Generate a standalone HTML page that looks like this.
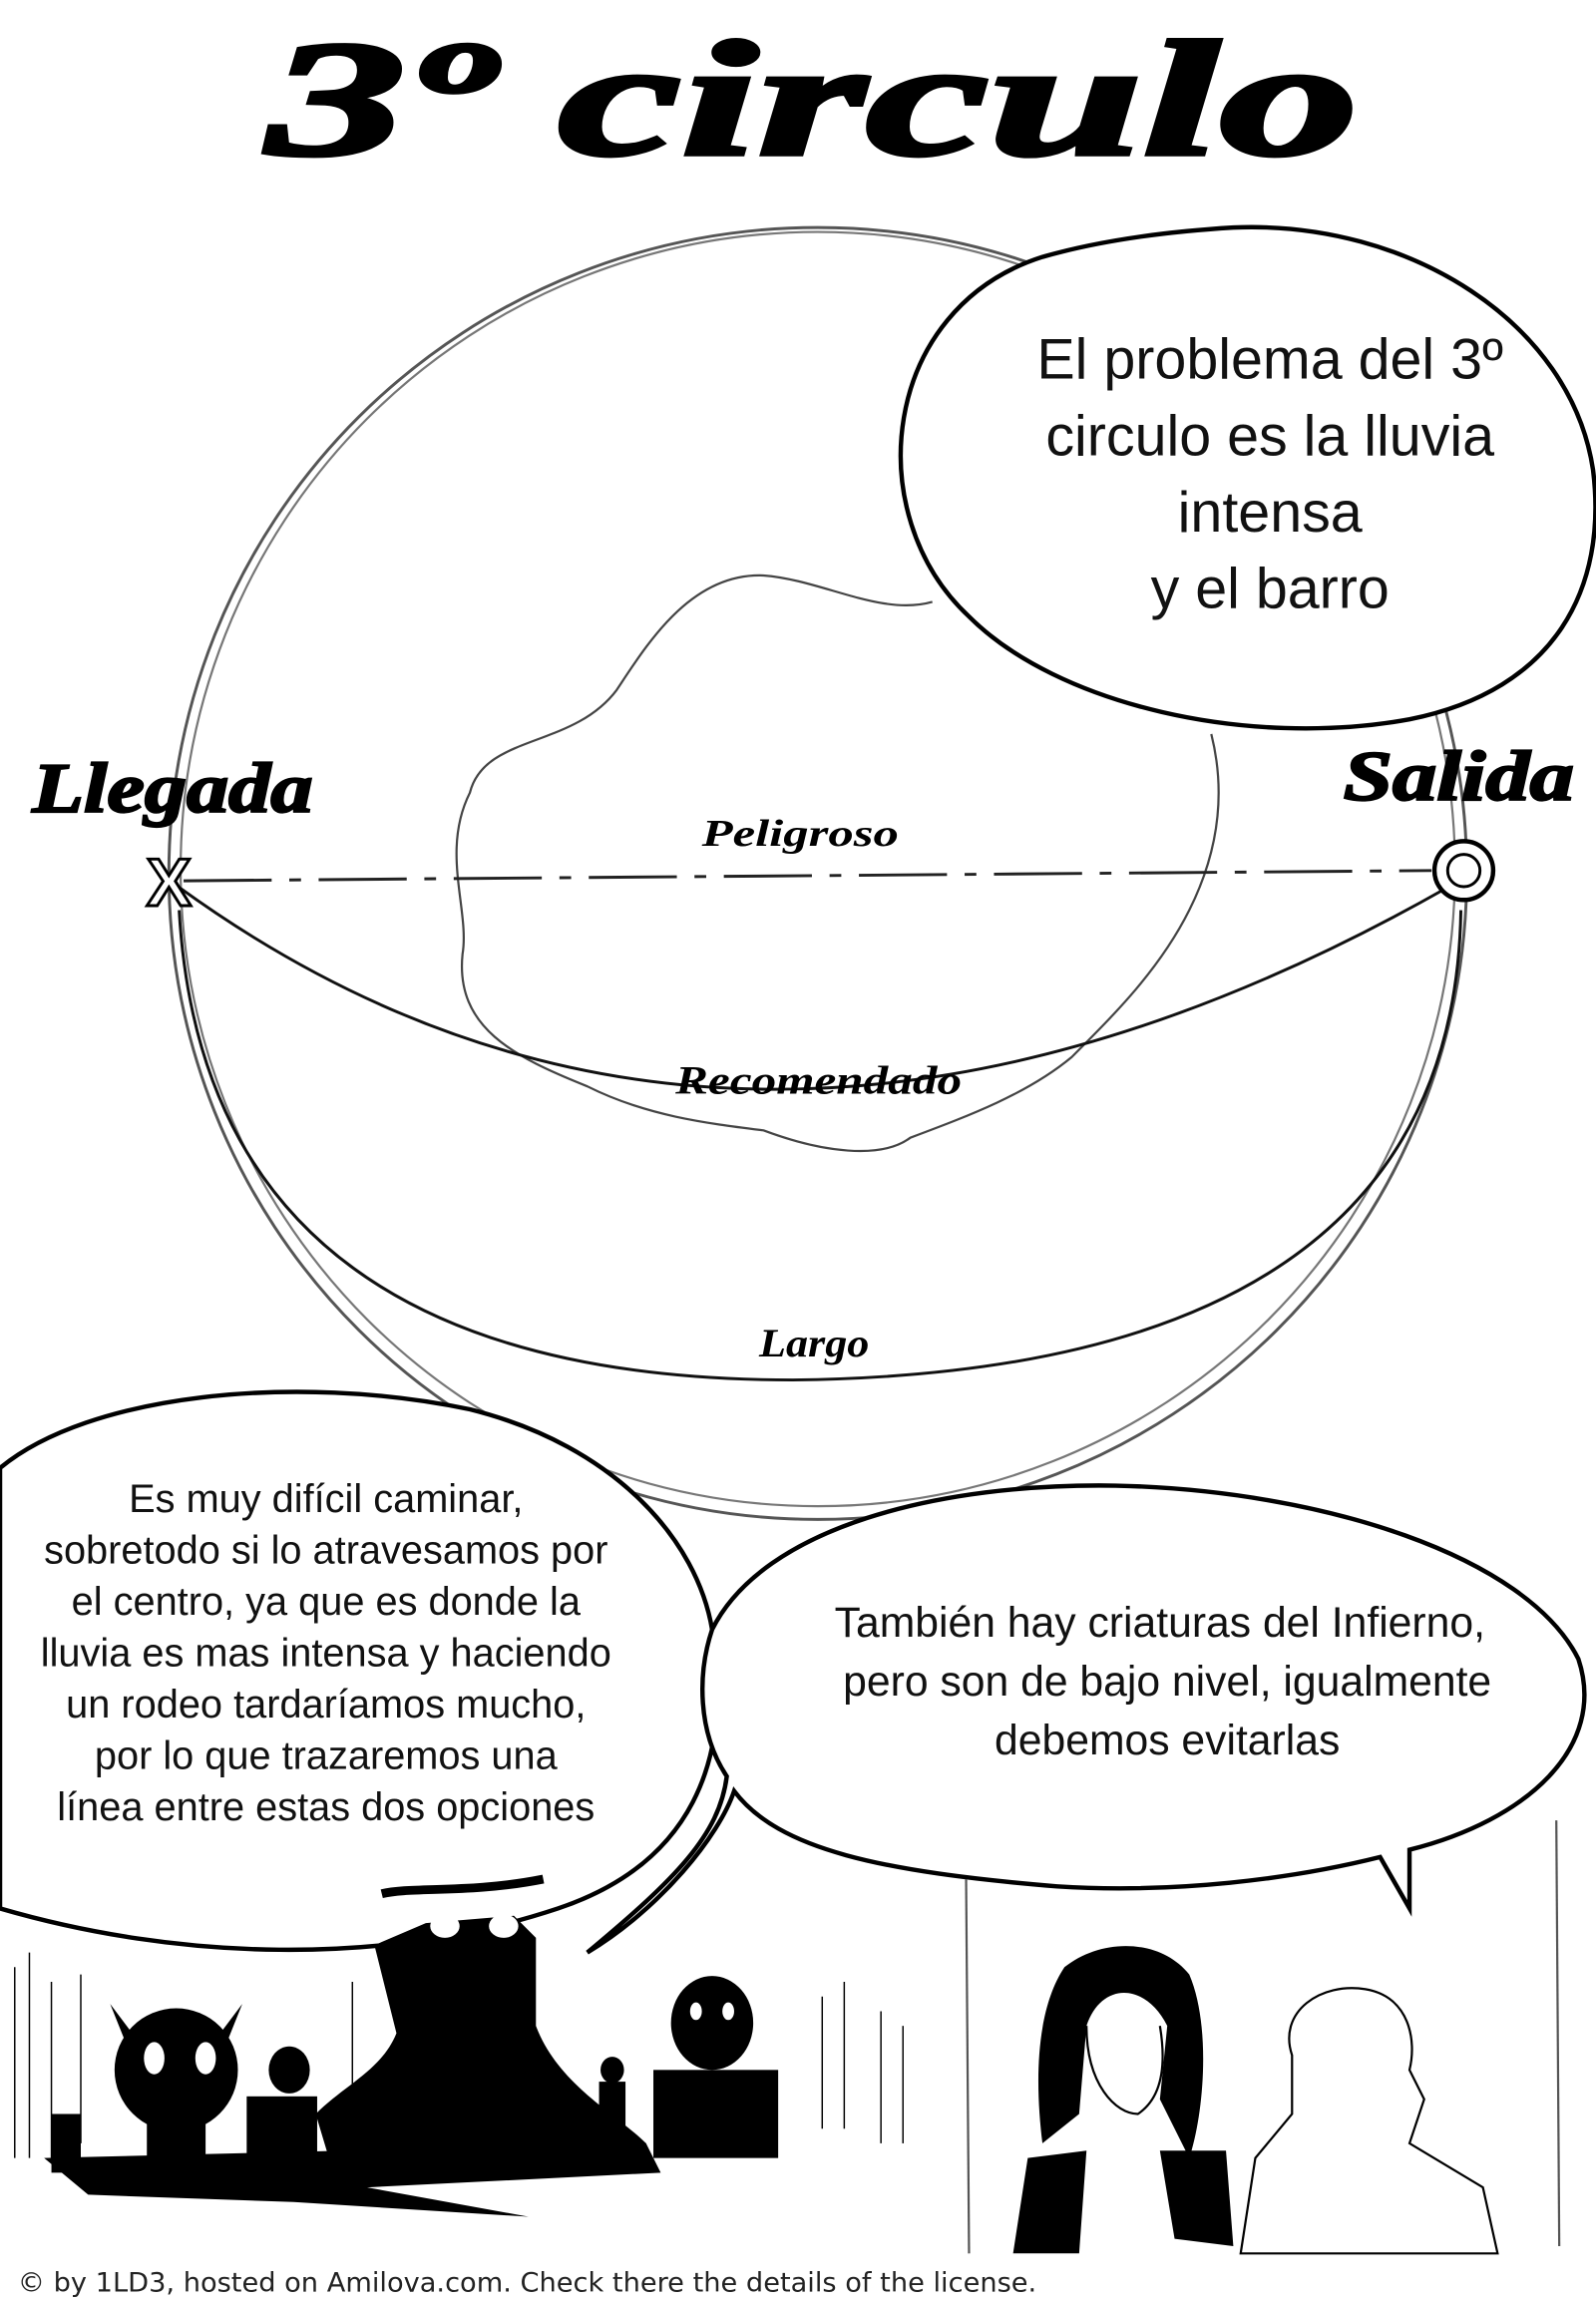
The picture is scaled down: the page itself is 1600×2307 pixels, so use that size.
<!DOCTYPE html>
<html><head><meta charset="utf-8"><style>
html,body{margin:0;padding:0;background:#fff;}
svg{display:block;}
</style></head><body>
<svg width="1600" height="2307" viewBox="0 0 1087 1567.4" xmlns="http://www.w3.org/2000/svg">
<rect width="1087" height="1567.4" fill="#fff"/>
<text x="182" y="105" textLength="743" lengthAdjust="spacingAndGlyphs" font-family="Liberation Serif, serif" font-weight="bold" font-style="italic" font-size="112" fill="#000" stroke="#000" stroke-width="3">3º circulo</text>
<ellipse cx="557" cy="595" rx="442" ry="440" fill="none" stroke="#555" stroke-width="2"/>
<ellipse cx="557" cy="592" rx="434" ry="434" fill="none" stroke="#777" stroke-width="1.5"/>
<path d="M635,410 C600,420 560,395 520,392 C470,390 440,440 420,470 C390,510 330,500 320,540 C300,580 320,620 315,650 C310,700 350,720 400,740 C440,760 480,765 520,770 C560,785 600,790 620,775 C660,760 700,745 730,720 C760,690 790,660 810,620 C830,580 835,540 825,500" fill="none" stroke="#444" stroke-width="1.5"/>
<line x1="125" y1="600" x2="975" y2="593" stroke="#222" stroke-width="2" stroke-dasharray="60,12,8,12"/>
<path d="M120,603 Q500,880 985,605" fill="none" stroke="#111" stroke-width="2"/>
<path d="M122,620 Q140,940 540,940 Q990,935 995,620" fill="none" stroke="#111" stroke-width="2"/>
<text x="115" y="617" text-anchor="middle" font-family="Liberation Sans, sans-serif" font-weight="bold" font-size="46" fill="#fff" stroke="#000" stroke-width="2">X</text>
<circle cx="997" cy="593" r="20" fill="#fff" stroke="#000" stroke-width="3"/>
<circle cx="997" cy="593" r="11" fill="#fff" stroke="#000" stroke-width="2"/>
<text x="22" y="553" textLength="191" lengthAdjust="spacingAndGlyphs" font-family="Liberation Serif, serif" font-weight="bold" font-style="italic" font-size="48" fill="#000" stroke="#000" stroke-width="1.5">Llegada</text>
<text x="915" y="545" textLength="157" lengthAdjust="spacingAndGlyphs" font-family="Liberation Serif, serif" font-weight="bold" font-style="italic" font-size="48" fill="#000" stroke="#000" stroke-width="1.5">Salida</text>
<text x="478" y="576" textLength="134" lengthAdjust="spacingAndGlyphs" font-family="Liberation Serif, serif" font-weight="bold" font-style="italic" font-size="26" fill="#000">Peligroso</text>
<text x="460" y="745" textLength="195" lengthAdjust="spacingAndGlyphs" font-family="Liberation Serif, serif" font-weight="bold" font-style="italic" font-size="27" fill="#000">Recomendado</text>
<text x="517" y="924" textLength="75" lengthAdjust="spacingAndGlyphs" font-family="Liberation Serif, serif" font-weight="bold" font-style="italic" font-size="27" fill="#000">Largo</text>
<path d="M710,175 C600,210 585,350 660,420 C720,480 850,510 960,490 C1060,470 1095,400 1085,320 C1070,220 960,150 840,155 C790,158 745,165 710,175 Z" fill="#fff" stroke="#000" stroke-width="3"/>
<g font-family="Liberation Sans, sans-serif" font-size="39" fill="#111" text-anchor="middle">
<text x="865" y="258">El problema del 3º</text>
<text x="865" y="310">circulo es la lluvia</text>
<text x="865" y="362">intensa</text>
<text x="865" y="414">y el barro</text>
</g>
<path d="M0,1000 C60,950 200,935 320,960 C420,985 475,1050 485,1110 C500,1200 470,1270 380,1300 C260,1340 120,1335 0,1300 Z" fill="#fff" stroke="#000" stroke-width="3"/>
<path d="M485,1110 C520,1040 640,1010 760,1012 C900,1015 1040,1060 1075,1130 C1095,1190 1040,1240 960,1260 L960,1300 L940,1265 C880,1280 800,1290 720,1285 C600,1275 530,1260 500,1220 C490,1250 450,1300 400,1330 C460,1280 490,1250 495,1210 C475,1180 475,1140 485,1110 Z" fill="#fff" stroke="#000" stroke-width="3"/>
<g font-family="Liberation Sans, sans-serif" font-size="27" fill="#111" text-anchor="middle">
<text x="222" y="1030">Es muy difícil caminar,</text>
<text x="222" y="1065">sobretodo si lo atravesamos por</text>
<text x="222" y="1100">el centro, ya que es donde la</text>
<text x="222" y="1135">lluvia es mas intensa y haciendo</text>
<text x="222" y="1170">un rodeo tardaríamos mucho,</text>
<text x="222" y="1205">por lo que trazaremos una</text>
<text x="222" y="1240">línea entre estas dos opciones</text>
</g>
<g font-family="Liberation Sans, sans-serif" font-size="29" fill="#111" text-anchor="middle">
<text x="790" y="1115">También hay criaturas del Infierno,</text>
<text x="795" y="1155">pero son de bajo nivel, igualmente</text>
<text x="795" y="1195">debemos evitarlas</text>
</g>
<g stroke="#000" stroke-width="1">
<line x1="10" y1="1340" x2="10" y2="1470"/><line x1="20" y1="1330" x2="20" y2="1470"/><line x1="35" y1="1350" x2="35" y2="1470"/>
<line x1="55" y1="1345" x2="55" y2="1460"/><line x1="240" y1="1350" x2="240" y2="1440"/><line x1="560" y1="1360" x2="560" y2="1450"/>
<line x1="575" y1="1350" x2="575" y2="1450"/><line x1="600" y1="1370" x2="600" y2="1460"/><line x1="615" y1="1380" x2="615" y2="1460"/>
</g>
<path d="M370,1280 C320,1290 280,1285 260,1290" stroke="#000" stroke-width="6" fill="none"/>
<g fill="#000">
<path d="M255,1325 L290,1310 L350,1305 L365,1320 L365,1380 C380,1420 420,1440 440,1460 L445,1480 L230,1490 L215,1440 C235,1420 260,1410 270,1385 Z"/>
<ellipse cx="120" cy="1410" rx="42" ry="42"/>
<rect x="100" y="1440" width="40" height="40"/>
<path d="M85,1390 L75,1365 L90,1385 Z M155,1390 L165,1365 L150,1385 Z"/>
<ellipse cx="197" cy="1410" rx="14" ry="16"/>
<rect x="168" y="1428" width="48" height="50"/>
<ellipse cx="485" cy="1378" rx="28" ry="32"/>
<rect x="445" y="1410" width="85" height="60"/>
<ellipse cx="417" cy="1410" rx="8" ry="9"/>
<rect x="408" y="1418" width="18" height="30"/>
<path d="M30,1470 L440,1460 L450,1480 L250,1490 L360,1510 L200,1500 L60,1495 Z"/>
<rect x="35" y="1440" width="20" height="40"/>
</g>
<g fill="#fff">
<ellipse cx="105" cy="1402" rx="7" ry="11"/><ellipse cx="140" cy="1402" rx="7" ry="11"/>
<ellipse cx="474" cy="1370" rx="4" ry="6"/><ellipse cx="496" cy="1370" rx="4" ry="6"/>
<ellipse cx="303" cy="1312" rx="10" ry="8"/><ellipse cx="343" cy="1312" rx="10" ry="8"/>
</g>
<line x1="658" y1="1280" x2="660" y2="1535" stroke="#555" stroke-width="1.5"/>
<line x1="1060" y1="1240" x2="1062" y2="1530" stroke="#555" stroke-width="1.5"/>
<g fill="#000">
<path d="M725,1340 C750,1320 790,1320 810,1345 C825,1380 820,1440 810,1470 L790,1430 L795,1380 C780,1350 750,1350 740,1380 L735,1440 L710,1460 C705,1420 705,1370 725,1340 Z"/>
<path d="M700,1470 L740,1465 L735,1535 L690,1535 Z M790,1465 L835,1465 L840,1530 L800,1525 Z"/>
</g>
<path d="M740,1380 C740,1420 760,1440 775,1440 C790,1430 795,1410 790,1380" fill="none" stroke="#000" stroke-width="1.5"/>
<path d="M880,1400 C870,1370 900,1350 930,1355 C960,1360 965,1390 960,1410 L970,1430 L960,1460 L1010,1490 L1020,1535 L845,1535 L855,1470 L880,1440 Z" fill="#fff" stroke="#000" stroke-width="1.5"/>
<text x="12" y="1561" textLength="694" lengthAdjust="spacingAndGlyphs" font-family="DejaVu Sans, sans-serif" font-size="18" fill="#222">© by 1LD3, hosted on Amilova.com. Check there the details of the license.</text>
</svg>
</body></html>
